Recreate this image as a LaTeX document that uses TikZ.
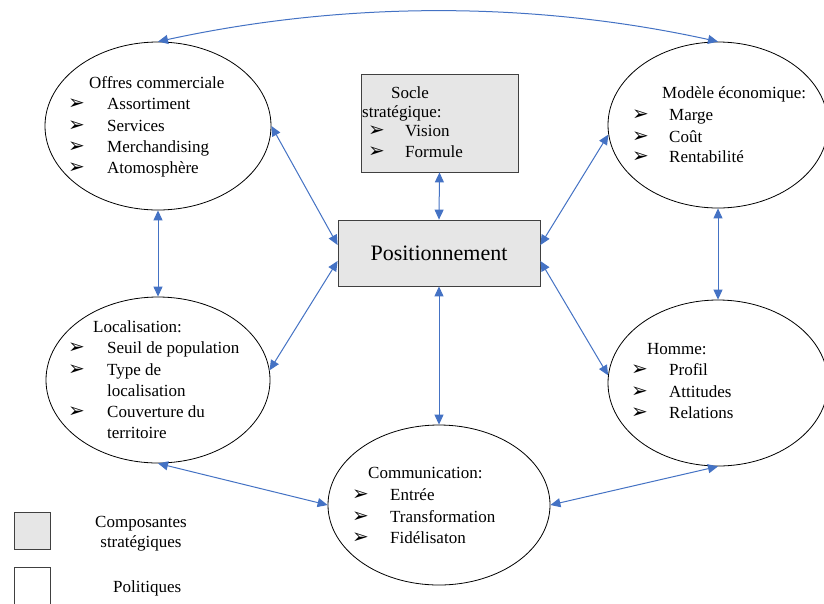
\documentclass[tikz,border=0pt]{standalone}
\usepackage{fontspec}
\setmainfont{Liberation Serif}
\newfontfamily\dvfont{DejaVu Sans}
\usetikzlibrary{shapes.geometric,arrows.meta}
\definecolor{arrblue}{HTML}{4472C4}
\definecolor{boxgray}{HTML}{E6E6E6}
\definecolor{boxedge}{HTML}{404040}
\newcommand\bulsym{\raisebox{-0.5pt}{\dvfont\fontsize{20}{20}\selectfont ➢}}
\newcommand\myitem[2]{\makebox[#1][l]{\bulsym}#2}
\begin{document}
\begin{tikzpicture}[x=1pt,y=-1pt,
  ell/.style={ellipse,draw=black,line width=0.8pt,inner sep=0pt},
  sbox/.style={rectangle,draw=boxedge,line width=0.8pt,fill=boxgray,inner sep=0pt},
  wbox/.style={rectangle,draw=boxedge,line width=0.8pt,fill=white,inner sep=0pt},
  txt/.style={anchor=base west,inner sep=0pt,font=\fontsize{17}{21}\selectfont},
  ctxt/.style={anchor=base,inner sep=0pt,font=\fontsize{17}{21}\selectfont},
  arr/.style={draw=arrblue,line width=1pt,{Triangle[length=10pt,width=9pt]}-{Triangle[length=10pt,width=9pt]}}
]
\clip (0,0) rectangle (824,603);
\fill[white] (0,0) rectangle (824,603);

% ellipses and boxes
\node[ell,minimum width=226pt,minimum height=168pt] (offres) at (158,126) {};
\node[ell,minimum width=220pt,minimum height=166pt] (modele) at (718,125) {};
\node[ell,minimum width=224pt,minimum height=166pt] (loc) at (158,380) {};
\node[ell,minimum width=220pt,minimum height=166pt] (homme) at (718,383) {};
\node[ell,minimum width=222pt,minimum height=160pt] (comm) at (439,505) {};
\node[sbox,minimum width=157pt,minimum height=98pt] (socle) at (439.5,123) {};
\node[sbox,minimum width=202pt,minimum height=66pt,font=\fontsize{22}{26}\selectfont] (pos) at (439,253) {Positionnement};

% legend
\node[sbox,minimum width=36pt,minimum height=37pt] (leg1) at (32,530.5) {};
\node[wbox,minimum width=36pt,minimum height=40pt] (leg2) at (32,587) {};
\node[ctxt] (lt1) at (141,527) {Composantes};
\node[ctxt] (lt2) at (141,547) {stratégiques};
\node[txt] (lt3) at (113,592) {Politiques};

% Offres commerciale
\node[txt] (o0) at (89,88) {Offres commerciale};
\node[txt] (o1) at (68,109) {\myitem{39pt}{Assortiment}};
\node[txt] (o2) at (68,131) {\myitem{39pt}{Services}};
\node[txt] (o3) at (68,152) {\myitem{39pt}{Merchandising}};
\node[txt] (o4) at (68,173) {\myitem{39pt}{Atomosphère}};

% Socle
\node[txt] (s0) at (391,98) {Socle};
\node[txt] (s1) at (362,117) {stratégique:};
\node[txt] (s2) at (368,136) {\myitem{37pt}{Vision}};
\node[txt] (s3) at (368,157) {\myitem{37pt}{Formule}};

% Modele economique
\node[txt] (m0) at (662,98) {Modèle économique:};
\node[txt] (m1) at (632,120) {\myitem{37pt}{Marge}};
\node[txt] (m2) at (632,142) {\myitem{37pt}{Coût}};
\node[txt] (m3) at (632,162) {\myitem{37pt}{Rentabilité}};

% Localisation
\node[txt] (l0) at (93,332) {Localisation:};
\node[txt] (l1) at (68,353) {\myitem{39pt}{Seuil de population}};
\node[txt] (l2) at (68,375) {\myitem{39pt}{Type de}};
\node[txt] (l3) at (107,396) {localisation};
\node[txt] (l4) at (68,417) {\myitem{39pt}{Couverture du}};
\node[txt] (l5) at (107,438) {territoire};

% Homme
\node[txt] (h0) at (647,354) {Homme:};
\node[txt] (h1) at (631,375) {\myitem{38pt}{Profil}};
\node[txt] (h2) at (631,397) {\myitem{38pt}{Attitudes}};
\node[txt] (h3) at (631,418) {\myitem{38pt}{Relations}};

% Communication
\node[txt] (c0) at (368,478) {Communication:};
\node[txt] (c1) at (352,500) {\myitem{38pt}{Entrée}};
\node[txt] (c2) at (352,522) {\myitem{38pt}{Transformation}};
\node[txt] (c3) at (352,543) {\myitem{38pt}{Fidélisaton}};

% connectors
\draw[arr] (offres.north) .. controls (345,1) and (533,1) .. (modele.north);
\draw[arr] (offres.south) -- (loc.north);
\draw[arr] (modele.south) -- (homme.north);
\draw[arr] (socle.south) -- (pos.north);
\draw[arr] (pos.south) -- (comm.north);
\draw[arr] (offres.east) -- ([yshift=8pt]pos.west);
\draw[arr] (loc.5) -- ([yshift=-8pt]pos.west);
\draw[arr] (modele.185) -- ([yshift=8pt]pos.east);
\draw[arr] (homme.176) -- ([yshift=-8pt]pos.east);
\draw[arr] (loc.south) -- (comm.west);
\draw[arr] (comm.east) -- (homme.south);
\end{tikzpicture}
\end{document}
